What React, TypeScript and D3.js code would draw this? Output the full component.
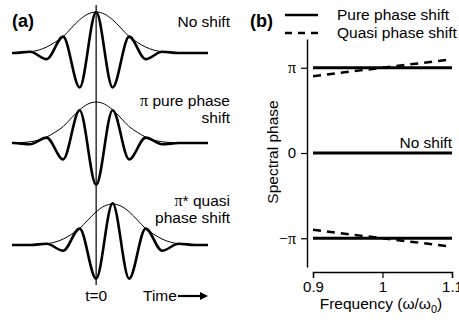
import React, { useEffect, useRef } from "react";
import * as d3 from "d3";

const PI = Math.PI;

// ---------- Panel (a): pulse extrema ----------
// time in optical cycles (t = 0 at the vertical line), field normalised to the envelope peak
const waveTimes = [-2.55, -2.5, -2, -1.5, -1, -0.5, 0, 0.5, 1, 1.5, 2, 2.5, 3, 3.39];
const noShiftField = [0, 0, 0.03, -0.15, 0.4, -0.84, 1, -0.84, 0.4, -0.15, 0.03, 0, 0, 0];
const pureShiftField = [0, 0, -0.03, 0.13, -0.4, 0.8, -1.02, 0.8, -0.4, 0.13, -0.03, 0, 0, 0];
const quasiShiftField = [0, 0, 0, 0.03, -0.14, 0.4, -0.82, 1.02, -0.82, 0.4, -0.14, 0.03, 0, 0];

const envelopeTimes = [-2.5, -2.25, -2, -1.75, -1.5, -1.25, -1, -0.75, -0.5, -0.25, 0, 0.25, 0.5, 0.75, 1, 1.25, 1.5, 1.75, 2, 2.25, 2.5];
const envelopeValues = [0, 0.012, 0.03, 0.07, 0.145, 0.26, 0.4, 0.61, 0.81, 0.95, 1, 0.95, 0.81, 0.61, 0.4, 0.26, 0.145, 0.07, 0.03, 0.012, 0];
const pulseDelays = [0, 0, 0.5];
const pulseFields = [noShiftField, pureShiftField, quasiShiftField];
const pulseLabels = [["No shift"], ["\u03c0 pure phase", "shift"], ["\u03c0* quasi", "phase shift"]];

// ---------- Panel (b): spectral phase ----------
const freqs = [0.9, 1.0, 1.1];
const purePhaseUpper = [PI, PI, PI];
const noShiftPhase = [0, 0, 0];
const purePhaseLower = [-PI, -PI, -PI];
const quasiPhaseUpper = [PI - 0.31, PI, PI + 0.31];
const quasiPhaseLower = [-PI + 0.31, -PI, -PI - 0.31];
const freqTicks = [0.9, 1, 1.1];
const freqTickLabels = ["0.9", "1", "1.1"];
const phaseTicks = [-PI, 0, PI];
const phaseTickLabels = ["\u2212\u03c0", "0", "\u03c0"];

const FONT = "'Liberation Sans', Arial, Helvetica, sans-serif";
const SERIF = "'Liberation Serif', 'Times New Roman', serif";

export default function App() {
  const yAxisRef = useRef<SVGGElement>(null);
  const xAxisRef = useRef<SVGGElement>(null);

  // panel (a) scales
  const xA = d3.scaleLinear().domain([-2.55, 3.39]).range([12, 208]);
  const rowBase = [53, 143, 245];
  const amp = 41;
  const yRow = (i: number) => d3.scaleLinear().domain([-1, 1]).range([rowBase[i] + amp, rowBase[i] - amp]);

  // panel (b) scales
  const xB = d3.scaleLinear().domain([0.9, 1.1]).range([313, 452]);
  const yB = d3.scaleLinear().domain([-4.2, 4.2]).range([267, 39]);

  useEffect(() => {
    const ya = d3.select(yAxisRef.current!);
    ya.selectAll("*").remove();
    ya.call(
      d3.axisLeft(yB)
        .tickValues(phaseTicks)
        .tickSizeInner(6)
        .tickSizeOuter(0)
        .tickPadding(5)
        .tickFormat((d, i) => phaseTickLabels[i])
    );
    ya.select(".domain").attr("stroke", "#000").attr("stroke-width", 1.4);
    ya.selectAll(".tick line").attr("stroke", "#000").attr("stroke-width", 1.2);
    ya.selectAll(".tick text")
      .attr("font-family", (d: any) => (d === 0 ? FONT : SERIF))
      .attr("font-size", (d: any) => (d === 0 ? 15 : 16))
      .attr("fill", "#000");

    const xa = d3.select(xAxisRef.current!);
    xa.selectAll("*").remove();
    xa.call(
      d3.axisBottom(xB)
        .tickValues(freqTicks)
        .tickSizeInner(6)
        .tickSizeOuter(6)
        .tickPadding(3)
        .tickFormat((d, i) => freqTickLabels[i])
    );
    xa.select(".domain").attr("stroke", "#000").attr("stroke-width", 1.4);
    xa.selectAll(".tick line").attr("stroke", "#000").attr("stroke-width", 1.2);
    xa.selectAll(".tick text").attr("font-family", FONT).attr("font-size", 15).attr("fill", "#000");
  }, []);

  const phaseLine = (vals: number[]) =>
    d3.line<number>().x((_, i) => xB(freqs[i])).y((v) => yB(v))(vals) || "";

  return (
    <svg
      width={459}
      height={320}
      style={{ position: "absolute", left: 0, top: 0, background: "#fff" }}
      fontFamily={FONT}
    >
      {/* ---------------- panel (a) ---------------- */}
      <text x={12} y={27} fontSize={18} fontWeight="bold">(a)</text>
      <line x1={xA(0)} x2={xA(0)} y1={5} y2={285} stroke="#000" strokeWidth={1.2} />
      {pulseFields.map((field, i) => {
        const y = yRow(i);
        const env = d3
          .line<number>()
          .x((_, k) => xA(envelopeTimes[k] + pulseDelays[i]))
          .y((v) => y(v))
          .curve(d3.curveMonotoneX)(envelopeValues);
        const wave = d3
          .line<number>()
          .x((_, k) => xA(waveTimes[k]))
          .y((v) => y(v))
          .curve(d3.curveMonotoneX)(field);
        return (
          <g key={i}>
            <path d={env || ""} fill="none" stroke="#000" strokeWidth={1} />
            <path d={wave || ""} fill="none" stroke="#000" strokeWidth={2.6} strokeLinejoin="round" />
          </g>
        );
      })}
      {pulseLabels.map((lines, i) =>
        lines.map((s, k) => {
          const baseY = [27, 106, 206][i] + k * 17;
          const hasPi = s.startsWith("\u03c0");
          return (
            <text key={i + "-" + k} x={230} y={baseY} fontSize={15.5} textAnchor="end">
              {hasPi ? (
                <>
                  <tspan fontFamily={SERIF} fontSize={16}>{"\u03c0"}</tspan>
                  <tspan>{s.slice(1)}</tspan>
                </>
              ) : (
                s
              )}
            </text>
          );
        })
      )}
      <text x={xA(0)} y={301} fontSize={15.5} textAnchor="middle">t=0</text>
      <text x={143} y={301} fontSize={15.5}>Time</text>
      <line x1={178} x2={201} y1={296} y2={296} stroke="#000" strokeWidth={2.2} />
      <path d="M200,292 L208,296 L200,300 Z" fill="#000" />

      {/* ---------------- panel (b) ---------------- */}
      <text x={250} y={27} fontSize={18} fontWeight="bold">(b)</text>
      <line x1={285} x2={318} y1={15} y2={15} stroke="#000" strokeWidth={2.6} />
      <line x1={285} x2={318} y1={33} y2={33} stroke="#000" strokeWidth={2.6} strokeDasharray="7,6" />
      <text x={337} y={20} fontSize={15.5}>Pure phase shift</text>
      <text x={337} y={38} fontSize={15.5}>Quasi phase shift</text>

      <g ref={yAxisRef} transform="translate(307,0)" />
      <g ref={xAxisRef} transform="translate(0,272)" />

      <path d={phaseLine(purePhaseUpper)} stroke="#000" strokeWidth={3} fill="none" />
      <path d={phaseLine(noShiftPhase)} stroke="#000" strokeWidth={3} fill="none" />
      <path d={phaseLine(purePhaseLower)} stroke="#000" strokeWidth={3} fill="none" />
      <path d={phaseLine(quasiPhaseUpper)} stroke="#000" strokeWidth={2.5} fill="none" strokeDasharray="8,6" />
      <path d={phaseLine(quasiPhaseLower)} stroke="#000" strokeWidth={2.5} fill="none" strokeDasharray="8,6" />
      <text x={452} y={148} fontSize={15.5} textAnchor="end">No shift</text>

      <text transform="translate(278,152) rotate(-90)" fontSize={15.5} textAnchor="middle">Spectral phase</text>
      <text x={381} y={309} fontSize={15.5} textAnchor="middle">
        Frequency (ω/ω<tspan fontSize={11} dy={4}>0</tspan>
        <tspan dy={-4}>)</tspan>
      </text>
    </svg>
  );
}
